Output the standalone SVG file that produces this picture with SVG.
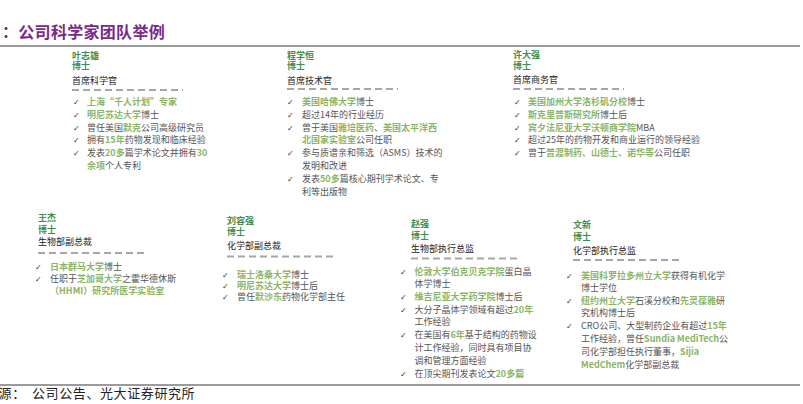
<svg xmlns="http://www.w3.org/2000/svg" width="803" height="404" viewBox="0 0 803 404">
<style>
text{font-family:"Noto Sans CJK SC","Noto Sans",sans-serif;}
.ttl{font-size:16px;font-weight:700;fill:#7a2a8a;letter-spacing:0.3px}
.src{font-size:13px;fill:#222;letter-spacing:0.6px}
.nm{font-size:9px;font-weight:700;fill:#3e8e4e}
.tt{font-size:9px;fill:#222}
.b{font-size:9px;fill:#555}
.g{fill:#8cb567;font-weight:700}
.ck{font-family:"DejaVu Sans",sans-serif;font-size:8px;fill:#333}
.dash{stroke:#a6a6a6;stroke-width:2;stroke-dasharray:7 4;fill:none}
.rule{stroke:#7a7a7a;stroke-width:1.5}
</style>
<rect width="803" height="404" fill="#fff"/>
<text class="ttl" x="2" y="38">：公司科学家团队举例</text>
<line class="rule" x1="0" y1="46" x2="800" y2="46"/>
<line class="rule" x1="0" y1="385" x2="800" y2="385"/>
<text class="src" x="-15" y="398">来源：</text>
<text class="src" x="32" y="398">公司公告、光大证券研究所</text>

<g id="p1">
<text class="nm" x="72" y="58.5">叶志雄</text>
<text class="nm" x="72" y="69">博士</text>
<text class="tt" x="72" y="83.5">首席科学官</text>
<line class="dash" x1="72" y1="90" x2="183" y2="90"/>
<text class="ck" x="73" y="105">✓</text>
<text class="b" x="87" y="105"><tspan class="g">上海“千人计划”专家</tspan></text>
<text class="ck" x="73" y="117.8">✓</text>
<text class="b" x="87" y="117.8"><tspan class="g">明尼苏达大学</tspan>博士</text>
<text class="ck" x="73" y="130.6">✓</text>
<text class="b" x="87" y="130.6">曾任美国<tspan class="g">默克</tspan>公司高级研究员</text>
<text class="ck" x="73" y="143.4">✓</text>
<text class="b" x="87" y="143.4">拥有<tspan class="g">15年</tspan>药物发现和临床经验</text>
<text class="ck" x="73" y="156.2">✓</text>
<text class="b" x="87" y="156.2">发表<tspan class="g">20多</tspan>篇学术论文并拥有<tspan class="g">30</tspan></text>
<text class="b" x="87" y="169"><tspan class="g">余项</tspan>个人专利</text>
</g>

<g id="p2">
<text class="nm" x="287" y="58.5">程学恒</text>
<text class="nm" x="287" y="69">博士</text>
<text class="tt" x="287" y="83.5">首席技术官</text>
<line class="dash" x1="287" y1="89" x2="398" y2="89"/>
<text class="ck" x="287" y="105">✓</text>
<text class="b" x="302" y="105"><tspan class="g">美国哈佛大学</tspan>博士</text>
<text class="ck" x="287" y="117.8">✓</text>
<text class="b" x="302" y="117.8">超过14年的行业经历</text>
<text class="ck" x="287" y="130.6">✓</text>
<text class="b" x="302" y="130.6">曾于美国<tspan class="g">雅培医药</tspan>、<tspan class="g">美国太平洋西</tspan></text>
<text class="b" x="302" y="143.4"><tspan class="g">北国家实验室</tspan>公司任职</text>
<text class="ck" x="287" y="156.2">✓</text>
<text class="b" x="302" y="156.2">参与质谱亲和筛选（ASMS）技术的</text>
<text class="b" x="302" y="169">发明和改进</text>
<text class="ck" x="287" y="181.8">✓</text>
<text class="b" x="302" y="181.8">发表<tspan class="g">50多</tspan>篇核心期刊学术论文、专</text>
<text class="b" x="302" y="194.6">利等出版物</text>
</g>

<g id="p3">
<text class="nm" x="513" y="58">许大强</text>
<text class="nm" x="513" y="68.5">博士</text>
<text class="tt" x="513" y="83">首席商务官</text>
<line class="dash" x1="513" y1="89" x2="624" y2="89"/>
<text class="ck" x="514" y="105">✓</text>
<text class="b" x="528" y="105"><tspan class="g">美国加州大学洛杉矶分校</tspan>博士</text>
<text class="ck" x="514" y="117.8">✓</text>
<text class="b" x="528" y="117.8"><tspan class="g">斯克里普斯研究所</tspan>博士后</text>
<text class="ck" x="514" y="130.6">✓</text>
<text class="b" x="528" y="130.6"><tspan class="g">宾夕法尼亚大学沃顿商学院</tspan>MBA</text>
<text class="ck" x="514" y="143.4">✓</text>
<text class="b" x="528" y="143.4">超过25年的药物开发和商业运行的领导经验</text>
<text class="ck" x="514" y="156.2">✓</text>
<text class="b" x="528" y="156.2">曾于<tspan class="g">普渡制药、山德士、诺华等</tspan>公司任职</text>
</g>

<g id="p4">
<text class="nm" x="38" y="221">王杰</text>
<text class="nm" x="38" y="232.5">博士</text>
<text class="tt" x="38" y="244.5">生物部副总裁</text>
<line class="dash" x1="38" y1="253" x2="146" y2="253"/>
<text class="ck" x="35" y="269.5">✓</text>
<text class="b" x="50" y="269.5"><tspan class="g">日本群马大学</tspan>博士</text>
<text class="ck" x="35" y="281.5">✓</text>
<text class="b" x="50" y="281.5">任职于<tspan class="g">芝加哥大学</tspan>之霍华德休斯</text>
<text class="b" x="50" y="293.5"><tspan class="g">（HHMI）研究所医学实验室</tspan></text>
</g>

<g id="p5">
<text class="nm" x="227" y="223.5">刘容强</text>
<text class="nm" x="227" y="235">博士</text>
<text class="tt" x="227" y="248.5">化学部副总裁</text>
<line class="dash" x1="227" y1="256.5" x2="336" y2="256.5"/>
<text class="ck" x="222" y="277.5">✓</text>
<text class="b" x="237" y="277.5"><tspan class="g">瑞士洛桑大学</tspan>博士</text>
<text class="ck" x="222" y="288.5">✓</text>
<text class="b" x="237" y="288.5"><tspan class="g">明尼苏达大学</tspan>博士后</text>
<text class="ck" x="222" y="299.5">✓</text>
<text class="b" x="237" y="299.5">曾任<tspan class="g">默沙东</tspan>药物化学部主任</text>
</g>

<g id="p6">
<text class="nm" x="411" y="226.8">赵强</text>
<text class="nm" x="411" y="239.2">博士</text>
<text class="tt" x="411" y="251.8">生物部执行总监</text>
<line class="dash" x1="411" y1="258.5" x2="521" y2="258.5"/>
<text class="ck" x="400" y="274.5">✓</text>
<text class="b" x="414.5" y="274.5"><tspan class="g">伦敦大学伯克贝克学院</tspan>蛋白晶</text>
<text class="b" x="414.5" y="287.3">体学博士</text>
<text class="ck" x="400" y="300">✓</text>
<text class="b" x="414.5" y="300"><tspan class="g">维吉尼亚大学药学院</tspan>博士后</text>
<text class="ck" x="400" y="312.5">✓</text>
<text class="b" x="414.5" y="312.5">大分子晶体学领域有超过<tspan class="g">20年</tspan></text>
<text class="b" x="414.5" y="325">工作经验</text>
<text class="ck" x="400" y="337.8">✓</text>
<text class="b" x="414.5" y="337.8">在美国有<tspan class="g">6年</tspan>基于结构的药物设</text>
<text class="b" x="414.5" y="350.8">计工作经验，同时具有项目协</text>
<text class="b" x="414.5" y="363.6">调和管理方面经验</text>
<text class="ck" x="400" y="376.6">✓</text>
<text class="b" x="414.5" y="376.6">在顶尖期刊发表论文<tspan class="g">20多篇</tspan></text>
</g>

<g id="p7">
<text class="nm" x="573" y="227.5">文新</text>
<text class="nm" x="573" y="240.2">博士</text>
<text class="tt" x="573" y="253.5">化学部执行总监</text>
<line class="dash" x1="573" y1="260" x2="682" y2="260"/>
<text class="ck" x="566" y="278.5">✓</text>
<text class="b" x="581" y="278.5"><tspan class="g">美国科罗拉多州立大学</tspan>获得有机化学</text>
<text class="b" x="581" y="291">博士学位</text>
<text class="ck" x="566" y="303.5">✓</text>
<text class="b" x="581" y="303.5"><tspan class="g">纽约州立大学</tspan>石溪分校和<tspan class="g">先灵葆雅</tspan>研</text>
<text class="b" x="581" y="316">究机构博士后</text>
<text class="ck" x="566" y="329.2">✓</text>
<text class="b" x="581" y="329.2">CRO公司、大型制药企业有超过<tspan class="g">15年</tspan></text>
<text class="b" x="581" y="342.2">工作经验，曾任<tspan class="g">Sundia MediTech</tspan>公</text>
<text class="b" x="581" y="355">司化学部担任执行董事，<tspan class="g">Sijia</tspan></text>
<text class="b" x="581" y="367.8"><tspan class="g">MedChem</tspan>化学部副总裁</text>
</g>
</svg>
